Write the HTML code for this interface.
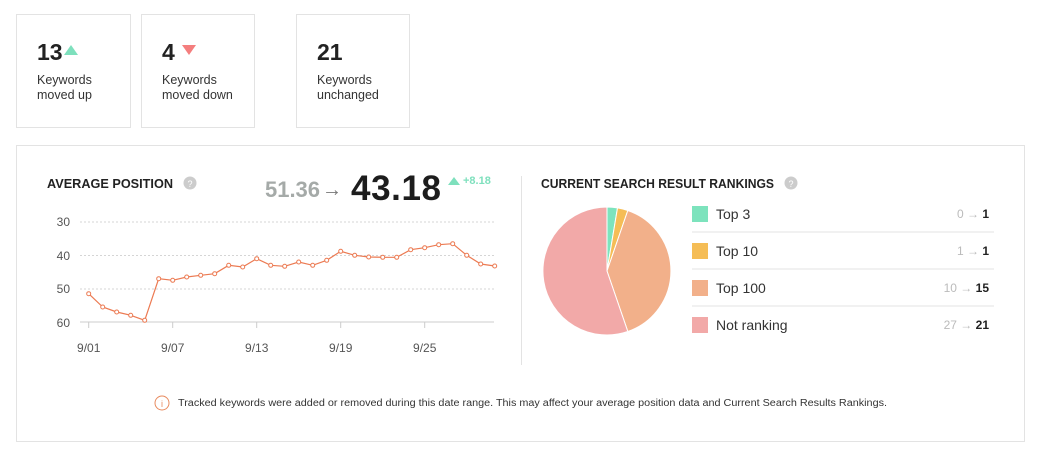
<!DOCTYPE html><html><head><style>
body{margin:0;width:1039px;height:451px;background:#fff;font-family:"Liberation Sans",sans-serif;position:relative;overflow:hidden}
.card{position:absolute;top:14px;height:114px;border:1px solid #e3e3e3;box-sizing:border-box}
.num{position:absolute;left:20px;top:24px;font-size:23px;font-weight:bold;color:#222}
.lbl{position:absolute;left:20px;top:58px;font-size:12.5px;line-height:15px;color:#333}
</style></head><body>
<div class="card" style="left:16px;width:115px"><div class="num">13</div><svg style="position:absolute;left:47px;top:30px" width="14" height="10"><path d="M0,10 L7,0 L14,10Z" fill="#7ee0bd"/></svg><div class="lbl">Keywords<br>moved up</div></div>
<div class="card" style="left:141px;width:114px"><div class="num">4</div><svg style="position:absolute;left:40px;top:30px" width="14" height="10"><path d="M0,0 L7,10 L14,0Z" fill="#f47e7e"/></svg><div class="lbl">Keywords<br>moved down</div></div>
<div class="card" style="left:296px;width:114px"><div class="num">21</div><div class="lbl">Keywords<br>unchanged</div></div>
<div style="position:absolute;left:16px;top:145px;width:1009px;height:297px;border:1px solid #e3e3e3;box-sizing:border-box"></div>
<svg width="1039" height="451" style="position:absolute;left:0;top:0" font-family="Liberation Sans, sans-serif">
<text x="47" y="188" font-size="13" font-weight="bold" fill="#222" textLength="126" lengthAdjust="spacingAndGlyphs">AVERAGE POSITION</text>
<circle cx="190" cy="183" r="6.5" fill="#ccc"/><text x="190" y="187" font-size="9" fill="#fff" text-anchor="middle">?</text>
<text x="265" y="197" font-size="22" font-weight="bold" fill="#a5aaa8" textLength="55">51.36</text>
<text x="322" y="196" font-size="20" fill="#777">→</text>
<text x="351" y="200" font-size="35" font-weight="bold" fill="#1d1d1d" textLength="90">43.18</text>
<path d="M448,185 L454,177 L460,185Z" fill="#7ee0bd"/>
<text x="463" y="184" font-size="11" font-weight="bold" fill="#7ee0bd">+8.18</text>
<g stroke="#d5d5d5" stroke-dasharray="2,2"><line x1="80" y1="222" x2="494" y2="222"/><line x1="80" y1="255.5" x2="494" y2="255.5"/><line x1="80" y1="289" x2="494" y2="289"/></g>
<line x1="80" y1="322" x2="494" y2="322" stroke="#ccc"/>
<g stroke="#ccc"><line x1="88.7" y1="322" x2="88.7" y2="328"/><line x1="172.7" y1="322" x2="172.7" y2="328"/><line x1="256.7" y1="322" x2="256.7" y2="328"/><line x1="340.7" y1="322" x2="340.7" y2="328"/><line x1="424.7" y1="322" x2="424.7" y2="328"/></g>
<g font-size="12" fill="#555" text-anchor="end"><text x="70" y="226">30</text><text x="70" y="260">40</text><text x="70" y="293">50</text><text x="70" y="327">60</text></g>
<g font-size="12" fill="#555" text-anchor="middle"><text x="88.7" y="352">9/01</text><text x="172.7" y="352">9/07</text><text x="256.7" y="352">9/13</text><text x="340.7" y="352">9/19</text><text x="424.7" y="352">9/25</text></g>
<polyline fill="none" stroke="#ec7a52" stroke-width="1.2" points="88.7,293.7 102.7,307 116.7,312 130.7,315.3 144.7,320.3 158.7,278.7 172.7,280.3 186.7,277 200.7,275.3 214.7,273.7 228.7,265.3 242.7,267 256.7,258.7 270.7,265.3 284.7,266.3 298.7,262 312.7,265.3 326.7,260.3 340.7,251.3 354.7,255.3 368.7,257 382.7,257.3 396.7,257.3 410.7,249.7 424.7,247.7 438.7,244.7 452.7,243.7 466.7,255.3 480.7,264 494.7,266"/>
<g fill="#fff" stroke="#ec7a52" stroke-width="1"><circle cx="88.7" cy="293.7" r="2"/><circle cx="102.7" cy="307" r="2"/><circle cx="116.7" cy="312" r="2"/><circle cx="130.7" cy="315.3" r="2"/><circle cx="144.7" cy="320.3" r="2"/><circle cx="158.7" cy="278.7" r="2"/><circle cx="172.7" cy="280.3" r="2"/><circle cx="186.7" cy="277" r="2"/><circle cx="200.7" cy="275.3" r="2"/><circle cx="214.7" cy="273.7" r="2"/><circle cx="228.7" cy="265.3" r="2"/><circle cx="242.7" cy="267" r="2"/><circle cx="256.7" cy="258.7" r="2"/><circle cx="270.7" cy="265.3" r="2"/><circle cx="284.7" cy="266.3" r="2"/><circle cx="298.7" cy="262" r="2"/><circle cx="312.7" cy="265.3" r="2"/><circle cx="326.7" cy="260.3" r="2"/><circle cx="340.7" cy="251.3" r="2"/><circle cx="354.7" cy="255.3" r="2"/><circle cx="368.7" cy="257" r="2"/><circle cx="382.7" cy="257.3" r="2"/><circle cx="396.7" cy="257.3" r="2"/><circle cx="410.7" cy="249.7" r="2"/><circle cx="424.7" cy="247.7" r="2"/><circle cx="438.7" cy="244.7" r="2"/><circle cx="452.7" cy="243.7" r="2"/><circle cx="466.7" cy="255.3" r="2"/><circle cx="480.7" cy="264" r="2"/><circle cx="494.7" cy="266" r="2"/></g>
<line x1="521.5" y1="176" x2="521.5" y2="365" stroke="#e3e3e3"/>
<text x="541" y="188" font-size="13" font-weight="bold" fill="#222" textLength="233" lengthAdjust="spacingAndGlyphs">CURRENT SEARCH RESULT RANKINGS</text>
<circle cx="791" cy="183" r="6.5" fill="#ccc"/><text x="791" y="187" font-size="9" fill="#fff" text-anchor="middle">?</text>
<g stroke="#fff" stroke-width="1">
<path d="M607,271 L607,207 A64,64 0 0 1 617.5,207.9 Z" fill="#7de3bd"/>
<path d="M607,271 L617.5,207.9 A64,64 0 0 1 627.8,210.5 Z" fill="#f5bd56"/>
<path d="M607,271 L627.8,210.5 A64,64 0 0 1 627.8,331.5 Z" fill="#f2b08a"/>
<path d="M607,271 L627.8,331.5 A64,64 0 1 1 607,207 Z" fill="#f2a9a8"/>
</g>
<g stroke="#e3e3e3"><line x1="692" y1="232" x2="994" y2="232"/><line x1="692" y1="269" x2="994" y2="269"/><line x1="692" y1="306" x2="994" y2="306"/></g>
<rect x="692" y="206" width="16" height="16" fill="#7de3bd"/><rect x="692" y="243" width="16" height="16" fill="#f5bd56"/><rect x="692" y="280" width="16" height="16" fill="#f2b08a"/><rect x="692" y="317" width="16" height="16" fill="#f2a9a8"/>
<g font-size="14" fill="#333"><text x="716" y="219">Top 3</text><text x="716" y="256">Top 10</text><text x="716" y="293">Top 100</text><text x="716" y="330">Not ranking</text></g>
<g font-size="12" text-anchor="end"><text x="989" y="218" fill="#bbb">0 → <tspan fill="#222" font-weight="bold">1</tspan></text><text x="989" y="255" fill="#bbb">1 → <tspan fill="#222" font-weight="bold">1</tspan></text><text x="989" y="292" fill="#bbb">10 → <tspan fill="#222" font-weight="bold">15</tspan></text><text x="989" y="329" fill="#bbb">27 → <tspan fill="#222" font-weight="bold">21</tspan></text></g>
<circle cx="162" cy="403" r="7" fill="none" stroke="#e88a5e"/><text x="162" y="407" font-size="9" fill="#e88a5e" text-anchor="middle">i</text>
<text x="178" y="406" font-size="10" fill="#333" textLength="709" lengthAdjust="spacingAndGlyphs">Tracked keywords were added or removed during this date range. This may affect your average position data and Current Search Results Rankings.</text>
</svg>
</body></html>
